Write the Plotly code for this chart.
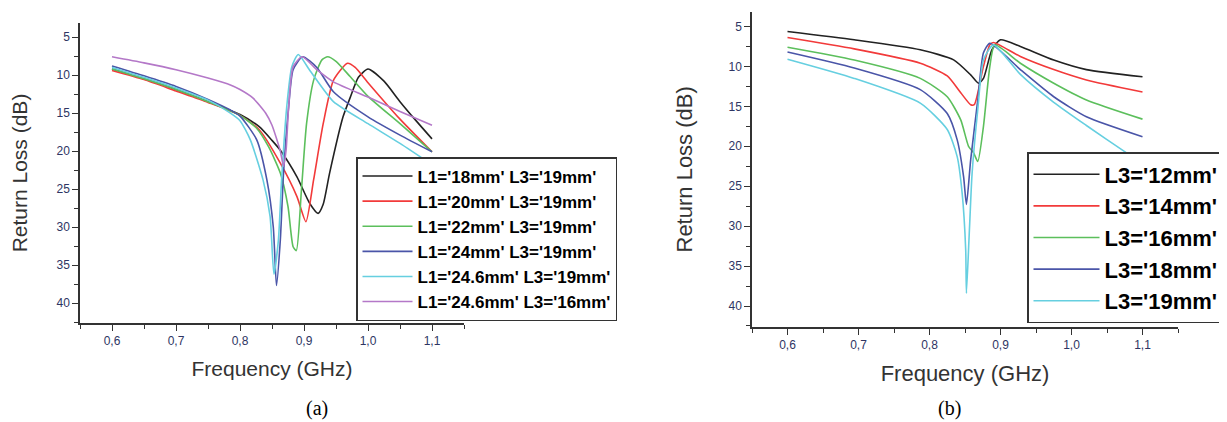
import plotly.graph_objects as go

# ---------------- Panel (a): varying L1 ----------------
A_NAMES = ["L1='18mm' L3='19mm'", "L1='20mm' L3='19mm'", "L1='22mm' L3='19mm'",
           "L1='24mm' L3='19mm'", "L1='24.6mm' L3='19mm'", "L1='24.6mm' L3='16mm'"]

a18_x = [0.60, 0.65, 0.70, 0.75, 0.80, 0.83, 0.85, 0.863, 0.889, 0.909, 0.922, 0.930, 0.940, 0.961, 0.972, 0.985, 1.00, 1.025, 1.05, 1.075, 1.10]
a18_y = [9.2, 10.5, 11.9, 13.5, 15.2, 16.8, 18.6, 19.9, 23.4, 26.9, 28.2, 27.0, 22.9, 15.5, 13.0, 10.3, 9.2, 10.8, 13.5, 16.0, 18.4]

a20_x = [0.60, 0.65, 0.70, 0.75, 0.80, 0.83, 0.863, 0.889, 0.903, 0.915, 0.930, 0.946, 0.968, 0.980, 1.00, 1.05, 1.10]
a20_y = [9.4, 10.6, 12.1, 13.6, 15.3, 17.2, 21.6, 26.0, 29.3, 23.8, 16.4, 10.7, 8.45, 9.0, 11.0, 15.8, 20.1]

a22_x = [0.60, 0.65, 0.70, 0.75, 0.80, 0.826, 0.845, 0.863, 0.875, 0.883, 0.888, 0.896, 0.904, 0.915, 0.928, 0.937, 0.950, 0.972, 1.00, 1.05, 1.10]
a22_y = [9.2, 10.5, 11.9, 13.5, 15.3, 17.0, 19.5, 22.9, 27.3, 32.6, 33.1, 25.1, 16.4, 10.7, 8.0, 7.6, 8.2, 10.2, 12.8, 16.4, 20.1]

a24_x = [0.60, 0.65, 0.70, 0.75, 0.785, 0.80, 0.826, 0.842, 0.852, 0.857, 0.863, 0.868, 0.876, 0.883, 0.898, 0.920, 0.946, 1.00, 1.05, 1.10]
a24_y = [8.8, 10.1, 11.5, 13.2, 14.6, 15.4, 18.5, 23.8, 30.0, 37.7, 31.7, 22.9, 14.2, 9.3, 7.6, 9.0, 12.2, 15.5, 17.9, 20.1]

a246_x = [0.60, 0.65, 0.70, 0.75, 0.785, 0.80, 0.816, 0.836, 0.847, 0.853, 0.860, 0.865, 0.873, 0.881, 0.891, 0.910, 0.946, 1.00, 1.05, 1.10]
a246_y = [9.0, 10.3, 11.7, 13.3, 15.0, 16.0, 18.5, 23.8, 28.6, 36.2, 31.7, 23.8, 14.2, 8.9, 7.3, 9.5, 13.5, 16.4, 19.0, 21.8]

a246b_x = [0.60, 0.65, 0.70, 0.75, 0.785, 0.80, 0.82, 0.84, 0.85, 0.858, 0.863, 0.868, 0.872, 0.876, 0.883, 0.897, 0.920, 0.946, 1.00, 1.05, 1.10]
a246b_y = [7.6, 8.4, 9.3, 10.4, 11.3, 11.9, 13.0, 15.0, 16.6, 18.6, 20.0, 22.0, 19.9, 14.2, 8.9, 7.6, 9.3, 10.9, 12.9, 14.8, 16.6]

A_X = [a18_x, a20_x, a22_x, a24_x, a246_x, a246b_x]
A_Y = [a18_y, a20_y, a22_y, a24_y, a246_y, a246b_y]

# ---------------- Panel (b): varying L3 ----------------
B_NAMES = ["L3='12mm'", "L3='14mm'", "L3='16mm'", "L3='18mm'", "L3='19mm'"]

b12_x = [0.60, 0.694, 0.787, 0.834, 0.858, 0.869, 0.876, 0.888, 0.900, 0.928, 0.975, 1.021, 1.10]
b12_y = [5.63, 6.67, 7.92, 9.18, 11.06, 12.1, 11.5, 7.9, 6.67, 7.5, 9.2, 10.4, 11.3]

b14_x = [0.60, 0.694, 0.787, 0.825, 0.844, 0.858, 0.863, 0.876, 0.885, 0.890, 0.928, 0.975, 1.021, 1.10]
b14_y = [6.38, 7.8, 9.6, 11.2, 13.3, 14.8, 14.8, 10.0, 7.3, 7.0, 8.76, 10.4, 11.7, 13.2]

b16_x = [0.60, 0.694, 0.787, 0.825, 0.844, 0.855, 0.862, 0.868, 0.876, 0.885, 0.892, 0.928, 0.975, 1.021, 1.10]
b16_y = [7.6, 9.2, 11.5, 13.8, 16.7, 20.0, 20.8, 21.9, 17.5, 10.0, 7.3, 9.6, 12.1, 14.2, 16.6]

b18_x = [0.60, 0.694, 0.787, 0.825, 0.839, 0.848, 0.852, 0.858, 0.868, 0.876, 0.885, 0.928, 0.975, 1.021, 1.10]
b18_y = [8.2, 10.2, 12.9, 15.9, 19.2, 23.8, 27.3, 21.7, 14.2, 8.3, 7.1, 10.4, 13.8, 16.3, 18.8]

b19_x = [0.60, 0.694, 0.787, 0.825, 0.839, 0.846, 0.851, 0.852, 0.856, 0.860, 0.868, 0.876, 0.890, 0.928, 0.975, 1.021, 1.077, 1.10]
b19_y = [9.1, 11.5, 14.6, 17.9, 21.3, 25.9, 33.0, 38.4, 30.9, 23.4, 15.4, 9.2, 7.3, 11.0, 14.5, 17.4, 20.8, 22.1]

B_X = [b12_x, b14_x, b16_x, b18_x, b19_x]
B_Y = [b12_y, b14_y, b16_y, b18_y, b19_y]

X_TICKS = [0.6, 0.7, 0.8, 0.9, 1.0, 1.1]
X_LABELS = ["0,6", "0,7", "0,8", "0,9", "1,0", "1,1"]
X_MINOR = [0.55, 0.65, 0.75, 0.85, 0.95, 1.05, 1.15]
Y_TICKS = [5, 10, 15, 20, 25, 30, 35, 40]
Y_MINOR = [7.5, 12.5, 17.5, 22.5, 27.5, 32.5, 37.5, 42.5]

A_COLORS = ["#222222", "#f23a3a", "#5cbf5c", "#4a55a8", "#66cfe0", "#b478c8"]
B_COLORS = ["#222222", "#f23a3a", "#5cbf5c", "#4a55a8", "#66cfe0"]

# page has an 8px body margin; the figure is sized to fit the window exactly
OFF = 8
W, H = 1227 - OFF, 422 - OFF
FONT = "Liberation Sans, Arial, sans-serif"


def px(v):
    return (v - OFF) / W


def py(v):
    return (H - (v - OFF)) / H


fig = go.Figure()
for i, name in enumerate(A_NAMES):
    fig.add_trace(go.Scatter(x=A_X[i], y=A_Y[i], mode="lines", name=name,
                             line=dict(color=A_COLORS[i], width=1.6, shape="spline", smoothing=0.6),
                             xaxis="x", yaxis="y", legend="legend", legendgroup="a%d" % i))
for i, name in enumerate(B_NAMES):
    fig.add_trace(go.Scatter(x=B_X[i], y=B_Y[i], mode="lines", name=name,
                             line=dict(color=B_COLORS[i], width=1.6, shape="spline", smoothing=0.6),
                             xaxis="x2", yaxis="y2", legend="legend2", legendgroup="b%d" % i))


def xax(domain, anchor, tsize):
    return dict(domain=domain, anchor=anchor, range=[0.55, 1.15], showline=True,
                linecolor="#333333", linewidth=1.5, ticks="outside", ticklen=6, tickwidth=1.2,
                tickcolor="#333333", tickvals=X_TICKS, ticktext=X_LABELS,
                minor=dict(tickvals=X_MINOR, ticks="outside", ticklen=4, tickcolor="#333333"),
                showgrid=False, zeroline=False, automargin=False,
                tickfont=dict(family=FONT, size=12, color="#2e3563"),
                title=dict(text="Frequency (GHz)", font=dict(family=FONT, size=tsize, color="#333333"), standoff=14))


def yax(domain, anchor, tsize, standoff):
    return dict(domain=domain, anchor=anchor, range=[42.63, 3.15], showline=True,
                linecolor="#333333", linewidth=1.5, ticks="outside", ticklen=6, tickwidth=1.2,
                tickcolor="#333333", tickvals=Y_TICKS,
                minor=dict(tickvals=Y_MINOR, ticks="outside", ticklen=4, tickcolor="#333333"),
                showgrid=False, zeroline=False, automargin=False,
                tickfont=dict(family=FONT, size=12, color="#2e3563"),
                title=dict(text="Return Loss (dB)", font=dict(family=FONT, size=tsize, color="#333333"), standoff=standoff))


legend_common = dict(bgcolor="white", bordercolor="#333333", borderwidth=1.5,
                     xanchor="left", yanchor="top", traceorder="grouped", tracegroupgap=0)

fig.update_layout(
    width=W, height=H, plot_bgcolor="white", paper_bgcolor="white",
    margin=dict(l=0, r=0, t=0, b=0, autoexpand=False),
    xaxis=xax([px(80), px(464)], "y", 21),
    yaxis=yax([py(323), py(23)], "x", 21, 23),
    xaxis2=xax([px(752), px(1178)], "y2", 22),
    yaxis2=yax([py(327), py(11.7)], "x2", 22, 30),
    legend=dict(x=px(356), y=py(157), itemwidth=50,
                font=dict(family=FONT, size=17, color="black", weight="bold"), **legend_common),
    legend2=dict(x=px(1027), y=py(152), itemwidth=66,
                 font=dict(family=FONT, size=22, color="black", weight="bold"), **legend_common),
    annotations=[
        dict(text="(a)", x=px(317), y=py(408), xref="paper", yref="paper", showarrow=False,
             xanchor="center", yanchor="middle",
             font=dict(family="Liberation Serif, Times New Roman, serif", size=20, color="black")),
        dict(text="(b)", x=px(949), y=py(408), xref="paper", yref="paper", showarrow=False,
             xanchor="center", yanchor="middle",
             font=dict(family="Liberation Serif, Times New Roman, serif", size=20, color="black")),
    ],
)

fig.write_html("out.html")
